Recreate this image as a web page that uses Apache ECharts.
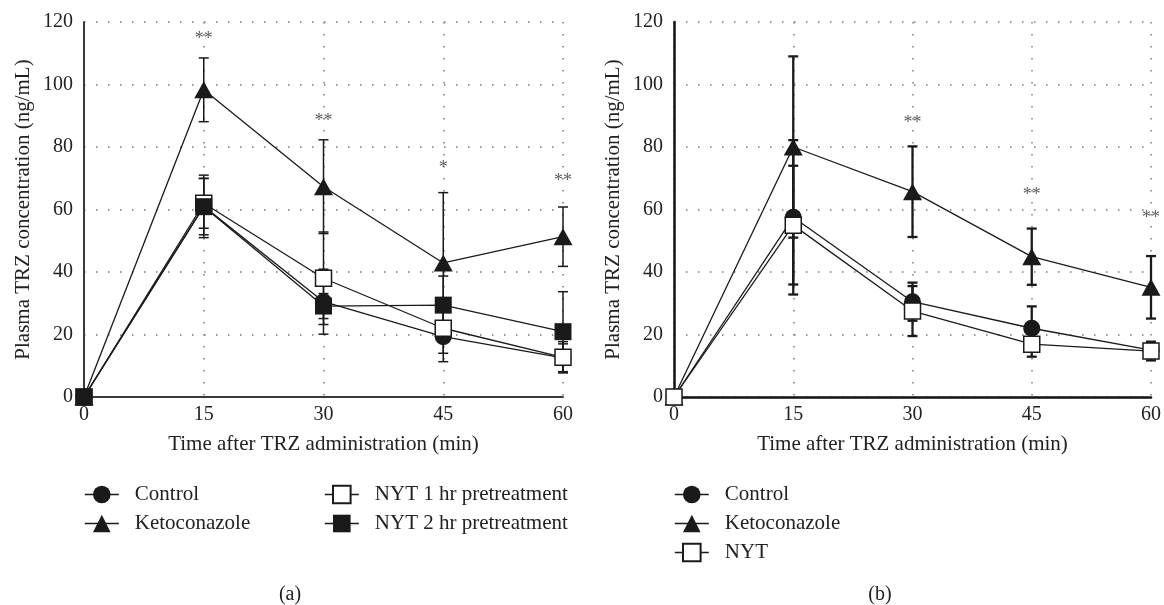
<!DOCTYPE html>
<html>
<head>
<meta charset="utf-8">
<script src="https://cdn.jsdelivr.net/npm/echarts@6/dist/echarts.min.js"></script>
<style>
html, body { margin: 0; padding: 0; background: #fff; }
#main { width: 1164px; height: 605px; }
</style>
</head>
<body>
<div id="main"></div>
<script>
// time points (min)
var times = [0, 15, 30, 45, 60];
var xTicks = [0, 15, 30, 45, 60];
var yTicks = [0, 20, 40, 60, 80, 100, 120];

// panel (a)
var controlA = [0, 61, 30.5, 19.3, 12.5];
var controlSdA = [0, 10, 10.4, 8, 4.5];
var ketoA = [0, 98.3, 67.3, 42.9, 51.3];
var ketoSdA = [0, 10.2, 15, 22.5, 9.5];
var nyt1A = [0, 62, 38, 22, 12.7];
var nyt1SdA = [0, 8, 14.8, 8, 5];
var nyt2A = [0, 60.9, 29.1, 29.4, 20.9];
var nyt2SdA = [0, 9, 4, 9.3, 12.8];
var starTimesA = [15, 30, 45, 60];
var starHeightsA = [115.8, 89.6, 74.6, 70.4];
var starTextA = ['**', '**', '*', '**'];

// panel (b)
var controlB = [0, 57.5, 30.5, 22, 15];
var controlSdB = [0, 24.7, 6.1, 7, 2];
var ketoB = [0, 80, 65.7, 44.9, 35.1];
var ketoSdB = [0, 29, 14.5, 9, 10];
var nytB = [0, 55, 27.5, 16.9, 14.7];
var nytSdB = [0, 19, 8, 4, 3];
var starTimesB = [30, 45, 60];
var starHeightsB = [88.9, 65.7, 58.5];
var starTextB = ['**', '**', '**'];

var FONT = '"Liberation Serif", "DejaVu Serif", serif';
var INK = '#1a1a1a';

function pts(m) {
  return times.map(function (t, i) { return [t, m[i]]; });
}

function bars(m, s) {
  var out = [];
  times.forEach(function (t, i) {
    if (s[i] > 0) out.push([t, m[i] - s[i], m[i] + s[i]]);
  });
  return out;
}

function errorRender(capW, lw) {
  return function (params, api) {
    var x = api.value(0);
    var lo = api.coord([x, api.value(1)]);
    var hi = api.coord([x, api.value(2)]);
    var st = { stroke: INK, lineWidth: lw };
    return {
      type: 'group',
      children: [
        { type: 'line', shape: { x1: hi[0], y1: hi[1], x2: lo[0], y2: lo[1] }, style: st },
        { type: 'line', shape: { x1: hi[0] - capW / 2, y1: hi[1], x2: hi[0] + capW / 2, y2: hi[1] }, style: st },
        { type: 'line', shape: { x1: lo[0] - capW / 2, y1: lo[1], x2: lo[0] + capW / 2, y2: lo[1] }, style: st }
      ]
    };
  };
}

function errSeries(idx, m, s, capW, lw) {
  return {
    type: 'custom',
    xAxisIndex: idx, yAxisIndex: idx,
    renderItem: errorRender(capW, lw),
    encode: { x: 0, y: [1, 2] },
    data: bars(m, s),
    z: 1,
    silent: true
  };
}

function lineSeries(idx, name, m, symbol, size, fill) {
  return {
    type: 'line',
    name: name,
    xAxisIndex: idx, yAxisIndex: idx,
    data: pts(m),
    symbol: symbol,
    symbolSize: size,
    showAllSymbol: true,
    clip: false,
    lineStyle: { color: INK, width: 1.3 },
    itemStyle: { color: fill, borderColor: INK, borderWidth: fill === '#fff' ? 1.5 : 0 },
    emphasis: { disabled: true },
    z: 2
  };
}

function starSeries(idx, xs, ys, txt) {
  return {
    type: 'scatter',
    xAxisIndex: idx, yAxisIndex: idx,
    data: xs.map(function (t, i) { return { value: [t, ys[i]], name: txt[i] }; }),
    symbolSize: 1,
    itemStyle: { color: 'rgba(0,0,0,0)' },
    label: {
      show: true, position: 'inside', formatter: '{b}',
      fontFamily: FONT, fontSize: 18, color: '#333', offset: [0, 4]
    },
    silent: true,
    z: 3
  };
}

function xAxisFor(idx, axisColor, axisW) {
  return {
    gridIndex: idx,
    type: 'value', min: 0, max: 60, interval: 15,
    axisLine: { show: true, onZero: false, lineStyle: { color: axisColor, width: axisW } },
    axisTick: { show: false },
    axisLabel: {
      fontFamily: FONT, fontSize: 20, color: '#222', margin: 8,
      formatter: function (v) { return xTicks.indexOf(v) >= 0 ? String(v) : ''; }
    },
    splitLine: { show: true, lineStyle: { type: [1.5, 10.5], color: '#777', width: 1.5 } },
    name: 'Time after TRZ administration (min)',
    nameLocation: 'middle', nameGap: 37,
    nameTextStyle: { fontFamily: FONT, fontSize: 21, color: '#222' }
  };
}

function yAxisFor(idx, axisColor, axisW) {
  return {
    gridIndex: idx,
    type: 'value', min: 0, max: 120, interval: 20,
    axisLine: { show: true, onZero: false, lineStyle: { color: axisColor, width: axisW } },
    axisTick: { show: false },
    axisLabel: {
      fontFamily: FONT, fontSize: 20, color: '#222', margin: 11,
      formatter: function (v) { return yTicks.indexOf(v) >= 0 ? String(v) : ''; }
    },
    splitLine: { show: true, lineStyle: { type: [1.5, 10.5], color: '#777', width: 1.5 } },
    name: 'Plasma TRZ concentration (ng/mL)',
    nameLocation: 'middle', nameGap: 50,
    nameTextStyle: { fontFamily: FONT, fontSize: 21, color: '#222' }
  };
}

function legendAt(left, names) {
  return {
    left: left, top: 484, orient: 'vertical',
    padding: 0, itemGap: 8, itemWidth: 34, itemHeight: 22,
    selectedMode: false,
    data: names,
    lineStyle: { width: 1.6 },
    textStyle: { fontFamily: FONT, fontSize: 21, color: '#222', padding: [0, 0, 0, 11] }
  };
}

var chart = echarts.init(document.getElementById('main'), null, { renderer: 'canvas' });

var option = {
  animation: false,
  backgroundColor: '#fff',
  grid: [
    { left: 84, right: 601, top: 22, bottom: 208 },
    { left: 674, right: 11, top: 22, bottom: 208 }
  ],
  xAxis: [xAxisFor(0, '#3a3a3a', 2), xAxisFor(1, '#111', 2.5)],
  yAxis: [yAxisFor(0, '#3a3a3a', 2), yAxisFor(1, '#111', 2.5)],
  legend: [
    legendAt(84, ['Control', 'Ketoconazole']),
    legendAt(324, ['NYT 1 hr pretreatment', 'NYT 2 hr pretreatment']),
    legendAt(674, ['Control', 'Ketoconazole', 'NYT'])
  ],
  graphic: [
    { type: 'text', x: 290, y: 595, style: { text: '(a)', align: 'center', verticalAlign: 'middle', font: '20px ' + FONT, fill: '#222' } },
    { type: 'text', x: 880, y: 595, style: { text: '(b)', align: 'center', verticalAlign: 'middle', font: '20px ' + FONT, fill: '#222' } }
  ],
  series: [
    errSeries(0, ketoA, ketoSdA, 10, 1.5),
    errSeries(0, controlA, controlSdA, 10, 1.5),
    errSeries(0, nyt1A, nyt1SdA, 10, 1.5),
    errSeries(0, nyt2A, nyt2SdA, 10, 1.5),
    lineSeries(0, 'Control', controlA, 'circle', 17, INK),
    lineSeries(0, 'Ketoconazole', ketoA, 'triangle', [19, 17], INK),
    lineSeries(0, 'NYT 1 hr pretreatment', nyt1A, 'rect', 16, '#fff'),
    lineSeries(0, 'NYT 2 hr pretreatment', nyt2A, 'rect', 17, INK),
    starSeries(0, starTimesA, starHeightsA, starTextA),

    errSeries(1, ketoB, ketoSdB, 10, 2.3),
    errSeries(1, controlB, controlSdB, 10, 2.3),
    errSeries(1, nytB, nytSdB, 10, 2.3),
    lineSeries(1, 'Control', controlB, 'circle', 17, INK),
    lineSeries(1, 'Ketoconazole', ketoB, 'triangle', [19, 17], INK),
    lineSeries(1, 'NYT', nytB, 'rect', 16, '#fff'),
    starSeries(1, starTimesB, starHeightsB, starTextB)
  ]
};

chart.setOption(option);
</script>
</body>
</html>
